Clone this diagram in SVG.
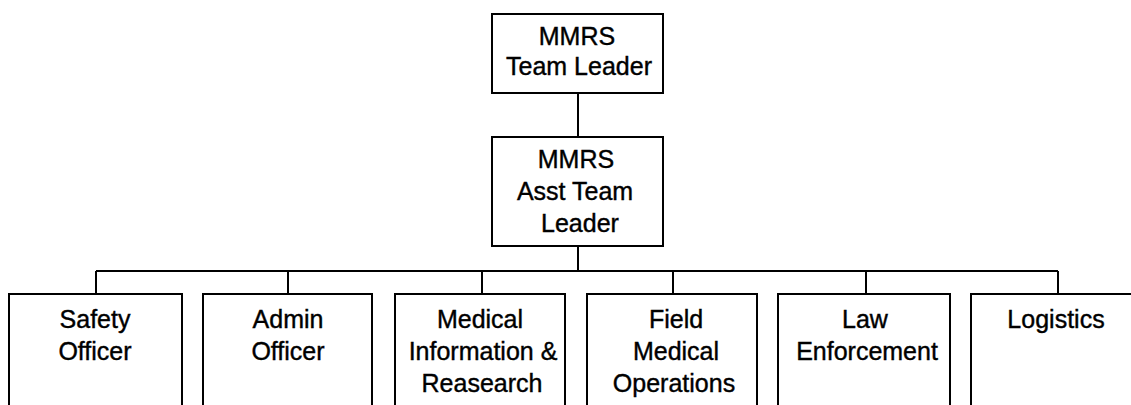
<svg xmlns="http://www.w3.org/2000/svg" width="1131" height="405" viewBox="0 0 1131 405">
<style>
.box{fill:#fff;stroke:#000;stroke-width:2}
.ln{fill:none;stroke:#000;stroke-width:2}
text{font-family:"Liberation Sans",Arial,sans-serif;font-size:25px;fill:#000;stroke:#000;stroke-width:0.4;text-anchor:middle}
</style>
<rect width="1131" height="405" fill="#fff"/>
<g id="connectors">
<line class="ln" x1="578" y1="93" x2="578" y2="137"/>
<line class="ln" x1="578" y1="246" x2="578" y2="271"/>
<line class="ln" x1="96" y1="271" x2="1058" y2="271"/>
<line class="ln" x1="96" y1="271" x2="96" y2="294"/>
<line class="ln" x1="288" y1="271" x2="288" y2="294"/>
<line class="ln" x1="482" y1="271" x2="482" y2="294"/>
<line class="ln" x1="673" y1="271" x2="673" y2="294"/>
<line class="ln" x1="866" y1="271" x2="866" y2="294"/>
<line class="ln" x1="1058" y1="271" x2="1058" y2="294"/>
</g>
<g id="team-leader">
<rect class="box" x="492" y="14" width="171" height="79"/>
<text x="577" y="45">MMRS</text>
<text x="579" y="75">Team Leader</text>
</g>
<g id="asst-team-leader">
<rect class="box" x="492" y="137" width="171" height="109"/>
<text x="576" y="168">MMRS</text>
<text x="575" y="200">Asst Team</text>
<text x="580" y="232">Leader</text>
</g>
<g id="safety-officer">
<rect class="box" x="9" y="294" width="173" height="130"/>
<text x="95" y="328">Safety</text>
<text x="95" y="360">Officer</text>
</g>
<g id="admin-officer">
<rect class="box" x="203" y="294" width="169" height="130"/>
<text x="288" y="328">Admin</text>
<text x="288" y="360">Officer</text>
</g>
<g id="medical-information">
<rect class="box" x="395" y="294" width="170" height="130"/>
<text x="480" y="328">Medical</text>
<text x="483" y="360">Information &amp;</text>
<text x="482" y="392">Reasearch</text>
</g>
<g id="field-medical">
<rect class="box" x="587" y="294" width="170" height="130"/>
<text x="676" y="328">Field</text>
<text x="676" y="360">Medical</text>
<text x="674" y="392">Operations</text>
</g>
<g id="law-enforcement">
<rect class="box" x="778" y="294" width="172" height="130"/>
<text x="865" y="328">Law</text>
<text x="867" y="360">Enforcement</text>
</g>
<g id="logistics">
<rect class="box" x="971" y="294" width="180" height="130"/>
<text x="1056" y="328">Logistics</text>
</g>
</svg>
